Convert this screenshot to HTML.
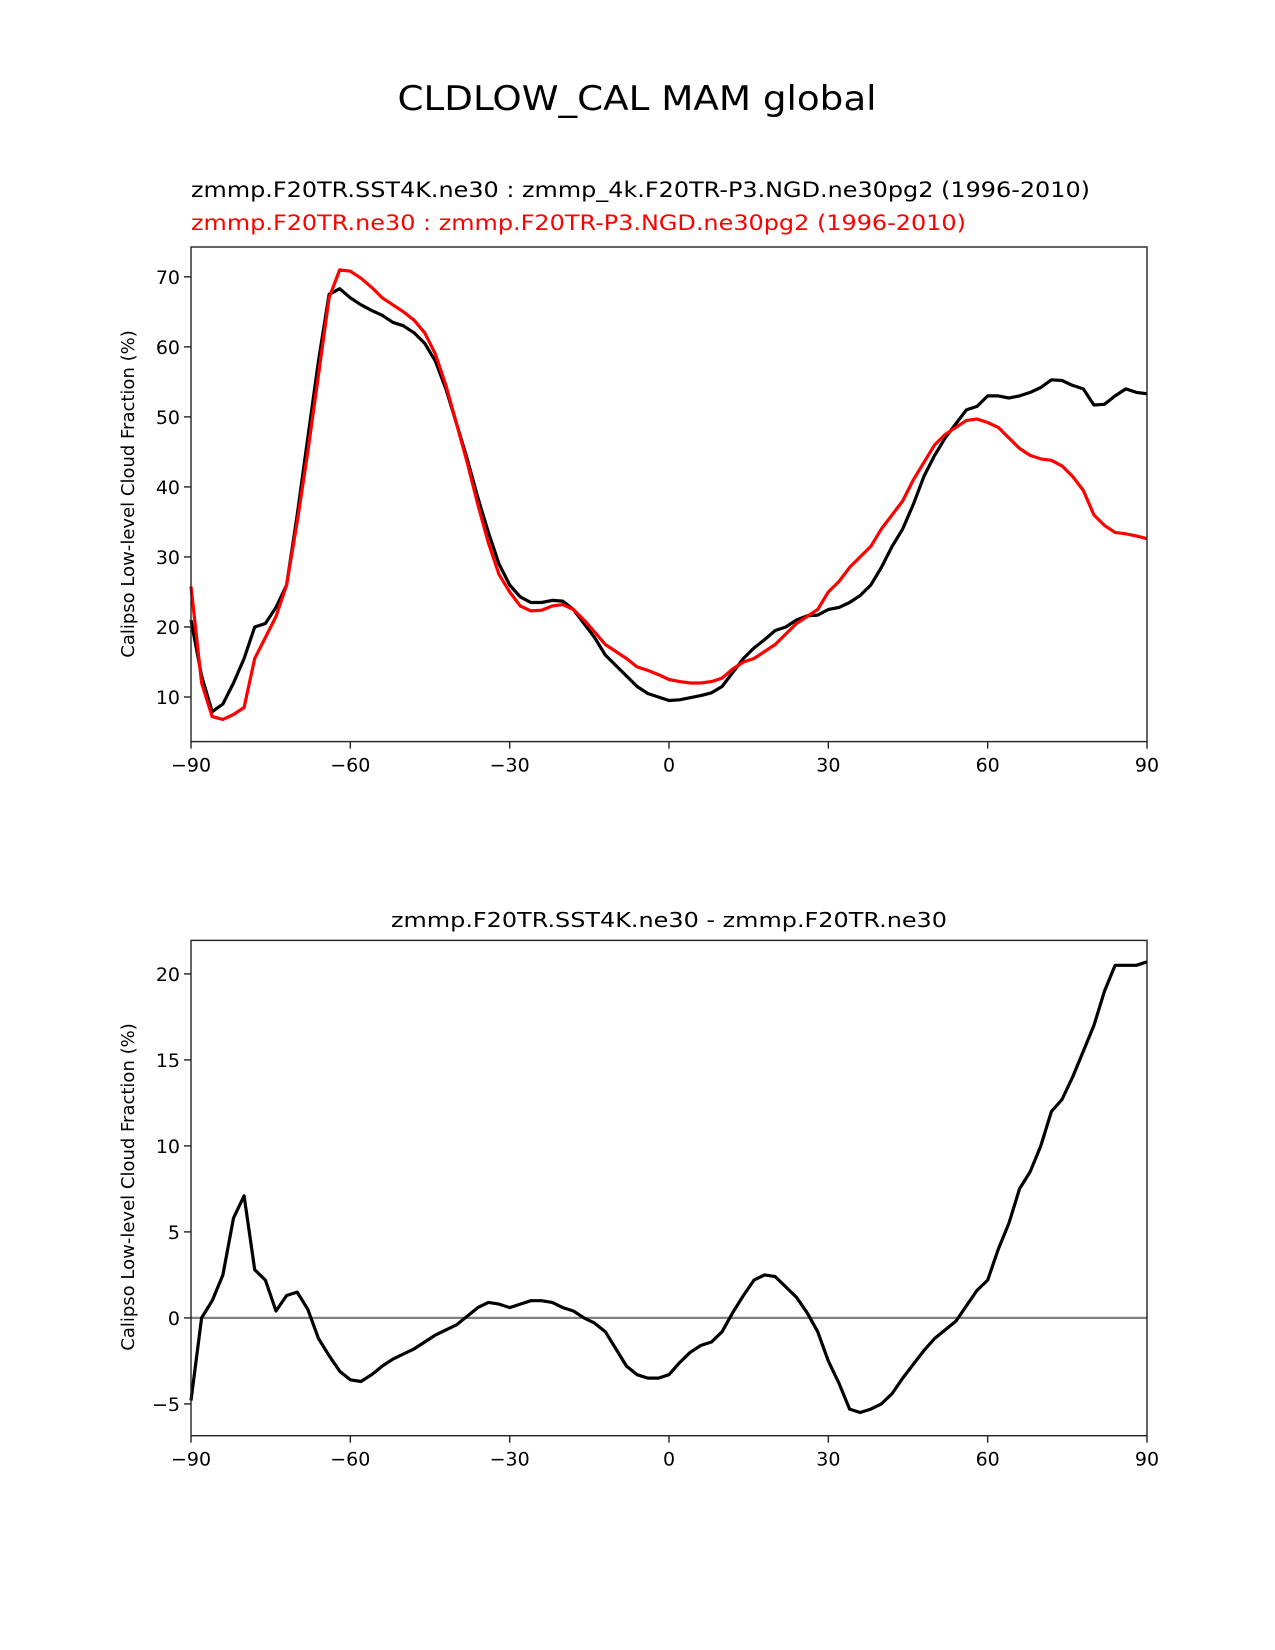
<!DOCTYPE html>
<html><head><meta charset="utf-8"><style>
html,body{margin:0;padding:0;background:#fff;}
svg{display:block;font-family:"DejaVu Sans","Liberation Sans",sans-serif;}
</style></head><body>
<svg id="fig" width="1275" height="1650" viewBox="0 0 1275 1650">
<rect width="1275" height="1650" fill="#fff"/>
<text x="637" y="110" font-size="34" text-anchor="middle" textLength="479" lengthAdjust="spacingAndGlyphs">CLDLOW_CAL MAM global</text>
<text x="191" y="197" font-size="21" textLength="899" lengthAdjust="spacingAndGlyphs">zmmp.F20TR.SST4K.ne30 : zmmp_4k.F20TR-P3.NGD.ne30pg2 (1996-2010)</text>
<text x="191" y="230" font-size="21" fill="#f00" textLength="775" lengthAdjust="spacingAndGlyphs">zmmp.F20TR.ne30 : zmmp.F20TR-P3.NGD.ne30pg2 (1996-2010)</text>
<text x="669" y="927" font-size="20" text-anchor="middle" textLength="556" lengthAdjust="spacingAndGlyphs">zmmp.F20TR.SST4K.ne30 - zmmp.F20TR.ne30</text>
<g id="top"></g>
<g id="bot"></g>
</svg>
<script>
const lats = [-90,-88,-86,-84,-82,-80,-78,-76,-74,-72,-70,-68,-66,-64,-62,-60,-58,-56,-54,-52,-50,-48,-46,-44,-42,-40,-38,-36,-34,-32,-30,-28,-26,-24,-22,-20,-18,-16,-14,-12,-10,-8,-6,-4,-2,0,2,4,6,8,10,12,14,16,18,20,22,24,26,28,30,32,34,36,38,40,42,44,46,48,50,52,54,56,58,60,62,64,66,68,70,72,74,76,78,80,82,84,86,88,90];
const testVals = [21,13,7.9,9,12,15.5,20,20.5,22.8,26,36,47,58,67.5,68.3,67,66,65.2,64.5,63.5,63,62,60.5,58,54,49,44,38.5,33.5,29,26,24.3,23.5,23.5,23.8,23.7,22.5,20.5,18.5,16,14.5,13,11.5,10.5,10,9.5,9.6,9.9,10.2,10.6,11.5,13.5,15.5,17,18.2,19.5,20,21,21.6,21.7,22.5,22.8,23.5,24.5,26,28.5,31.5,34,37.5,41.5,44.5,47,49,51,51.5,53,53,52.7,53,53.5,54.2,55.3,55.2,54.5,54,51.7,51.8,53,54,53.5,53.3];
const ctrlVals = [25.8,12,7.2,6.8,7.5,8.5,15.5,18.5,21.5,26,35,45,56,67,71,70.8,69.8,68.5,67,66,65,63.8,62,59,54.5,49,43.5,37.5,32,27.5,25,23,22.3,22.4,23,23.2,22.5,21,19.3,17.5,16.5,15.5,14.3,13.8,13.2,12.5,12.2,12,12,12.2,12.7,14,15,15.5,16.5,17.5,19,20.5,21.5,22.5,25,26.5,28.5,30,31.5,34,36,38,41,43.5,46,47.5,48.5,49.5,49.7,49.2,48.5,47,45.5,44.5,44,43.8,43,41.5,39.5,36,34.5,33.5,33.3,33,32.6];
const diffVals = [-4.8,0,1,2.5,5.8,7.1,2.8,2.2,0.4,1.3,1.5,0.5,-1.2,-2.2,-3.1,-3.6,-3.7,-3.3,-2.8,-2.4,-2.1,-1.8,-1.4,-1,-0.7,-0.4,0.1,0.6,0.9,0.8,0.6,0.8,1,1,0.9,0.6,0.4,0,-0.3,-0.8,-1.8,-2.8,-3.3,-3.5,-3.5,-3.3,-2.6,-2,-1.6,-1.4,-0.8,0.3,1.3,2.2,2.5,2.4,1.8,1.2,0.3,-0.8,-2.5,-3.8,-5.3,-5.5,-5.3,-5,-4.4,-3.5,-2.7,-1.9,-1.2,-0.7,-0.2,0.7,1.6,2.2,4,5.5,7.5,8.5,10,12,12.7,14,15.5,17,19,20.5,20.5,20.5,20.7];
const xTicks = [-90,-60,-30,0,30,60,90];
const xTickLabels = ["\u221290","\u221260","\u221230","0","30","60","90"];
const topYTicks = [10,20,30,40,50,60,70];
const botYTicks = [-5,0,5,10,15,20];
const botYTickLabels = ["\u22125","0","5","10","15","20"];

const NS="http://www.w3.org/2000/svg";
function mk(parent,tag,attrs){const e=document.createElementNS(NS,tag);for(const k in attrs)e.setAttribute(k,attrs[k]);parent.appendChild(e);return e;}
const L=191,R=1147;
const xs=v=>L+(v+90)/180*(R-L);

function panel(g,top,bot,yOf,yt,ytl,series,zero,ylabelY){
  if(zero){
    const z=mk(g,'line',{x1:L,x2:R,y1:yOf(0),y2:yOf(0),stroke:'#808080','stroke-width':2.2});
    
    
  }
  series.forEach(s=>{
    const d=lats.map((la,i)=>(i?'L':'M')+xs(la).toFixed(1)+','+yOf(s.v[i]).toFixed(1)).join(' ');
    const p=mk(g,'path',{d:d,fill:'none',stroke:s.c,'stroke-width':3.2,'stroke-linejoin':'round'});
    
    
  });
  const fr=mk(g,'rect',{x:L,y:top,width:R-L,height:bot-top,fill:'none',stroke:'#222','stroke-width':1.4});
  
  
  xTicks.forEach((t,i)=>{
    mk(g,'line',{x1:xs(t),x2:xs(t),y1:bot,y2:bot+7,stroke:'#222','stroke-width':1.4});
    const tx=mk(g,'text',{x:xs(t),y:bot+30,'font-size':19,'text-anchor':'middle'});
    tx.textContent=xTickLabels[i];
    
    
  });
  yt.forEach((t,i)=>{
    mk(g,'line',{x1:L-7,x2:L,y1:yOf(t),y2:yOf(t),stroke:'#222','stroke-width':1.4});
    const tx=mk(g,'text',{x:L-11,y:yOf(t)+7,'font-size':19,'text-anchor':'end'});
    tx.textContent=ytl[i];
    
    
  });
  const yl=mk(g,'text',{x:0,y:0,'font-size':18,'text-anchor':'middle',transform:`translate(134,${ylabelY}) rotate(-90)`});
  yl.textContent='Calipso Low-level Cloud Fraction (%)';
  
  
}
const yTop=v=>697-(v-10)*7.003;
panel(document.getElementById('top'),247,741.6,yTop,topYTicks,topYTicks.map(String),
  [{v:testVals,c:'#000',n:'test-line'},{v:ctrlVals,c:'#f00',n:'control-line'}],false,494);
const yBot=v=>1317.9-v*17.2;
panel(document.getElementById('bot'),940.4,1435.7,yBot,botYTicks,botYTickLabels,
  [{v:diffVals,c:'#000',n:'difference-line'}],true,1187);
</script>
</body></html>
